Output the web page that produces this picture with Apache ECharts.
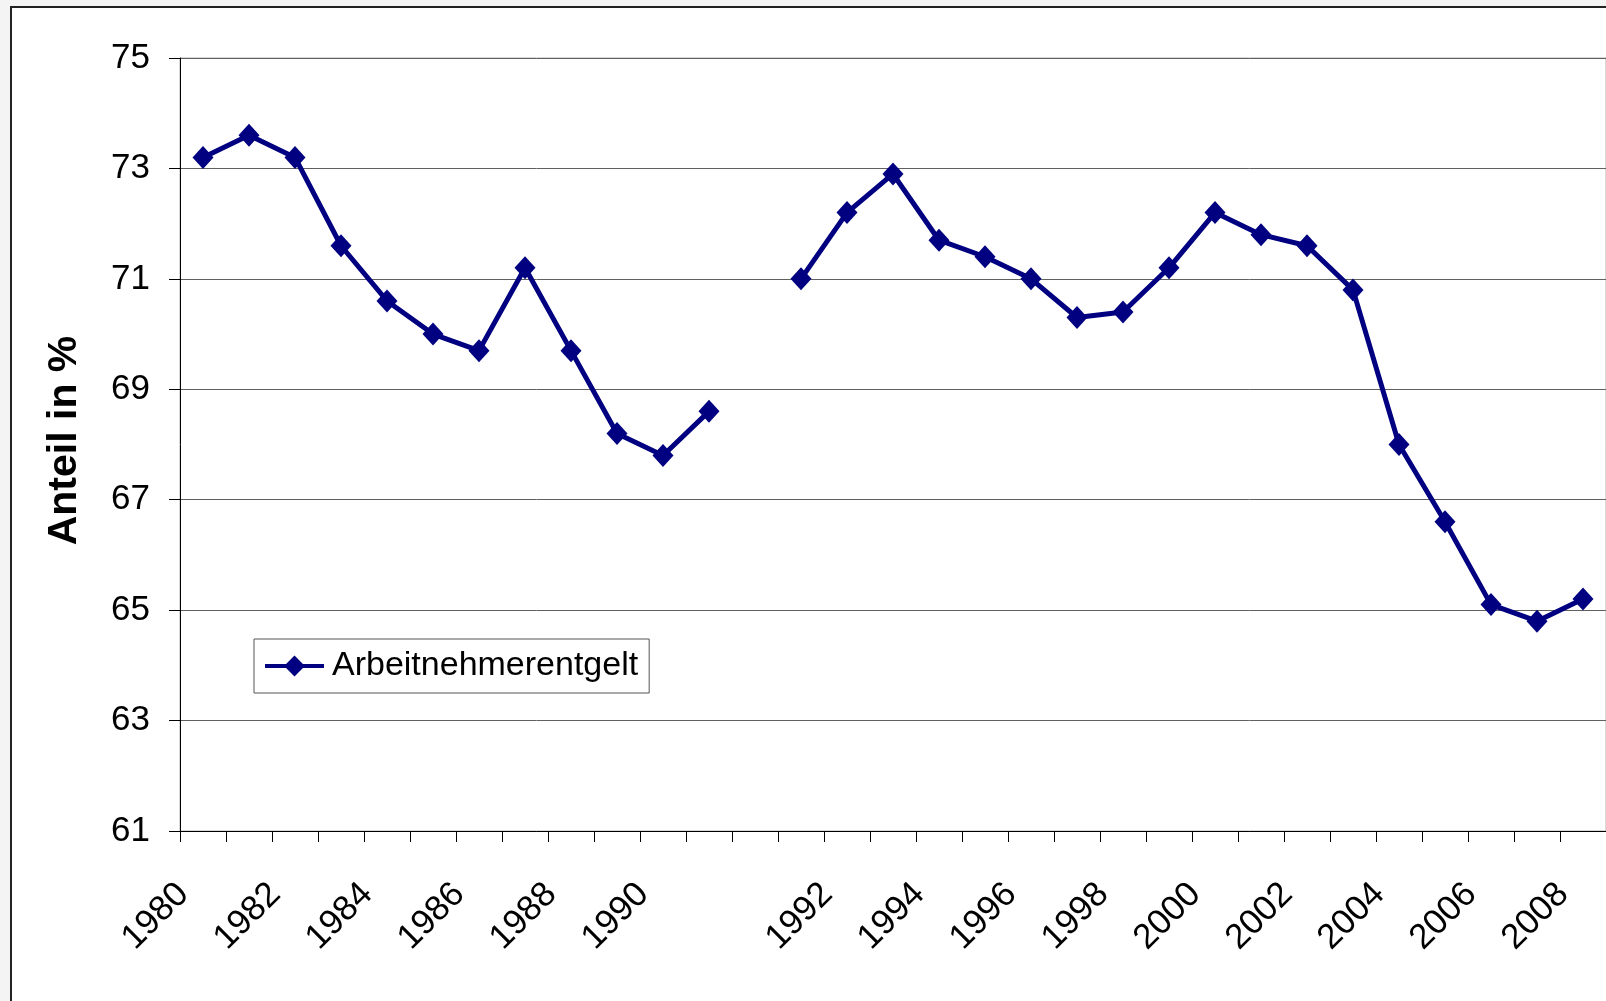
<!DOCTYPE html>
<html>
<head>
<meta charset="utf-8">
<script src="https://cdn.jsdelivr.net/npm/echarts@6/dist/echarts.min.js"></script>
<style>
    html, body { margin: 0; padding: 0; background: #f4f4f4; }
    #main-chart { width: 1606px; height: 1001px; }
</style>
</head>
<body>
<div id="main-chart"></div>
<script>
// Früheres Bundesgebiet 1980-1991, Deutschland 1991-2008
const westYears = ['1980', '1981', '1982', '1983', '1984', '1985', '1986', '1987', '1988', '1989', '1990', '1991'];
const westValues = [73.2, 73.6, 73.2, 71.6, 70.6, 70.0, 69.7, 71.2, 69.7, 68.2, 67.8, 68.6];
const gesamtYears = ['1991', '1992', '1993', '1994', '1995', '1996', '1997', '1998', '1999',
    '2000', '2001', '2002', '2003', '2004', '2005', '2006', '2007', '2008'];
const gesamtValues = [71.0, 72.2, 72.9, 71.7, 71.4, 71.0, 70.3, 70.4, 71.2,
    72.2, 71.8, 71.6, 70.8, 68.0, 66.6, 65.1, 64.8, 65.2];
const seriesName = 'Arbeitnehmerentgelt';
const yAxisTitle = 'Anteil in %';

// leere Kategorie als Lücke zwischen den beiden Reihen
const categories = westYears.concat([''], gesamtYears);
const values = westValues.concat([null], gesamtValues);

const fontFamily = '"Liberation Sans", Arial, sans-serif';
const myChart = echarts.init(document.getElementById('main-chart'));

const option = {
    animation: false,
    backgroundColor: '#f4f4f4',
    graphic: [{
        type: 'rect',
        z: -10,
        shape: { x: 11, y: 7, width: 1700, height: 1100 },
        style: { fill: '#ffffff', stroke: '#222222', lineWidth: 2 }
    }],
    grid: {
        left: 180, top: 58, width: 1426, height: 773,
        show: true, borderColor: '#b0b0b0', borderWidth: 1, backgroundColor: 'transparent'
    },
    legend: {
        left: 254, top: 639,
        padding: [10, 11, 10, 9],
        backgroundColor: '#ffffff',
        borderColor: '#555555',
        borderWidth: 1,
        borderRadius: 0,
        itemWidth: 59,
        itemHeight: 26,
        lineStyle: { width: 4 },
        textStyle: { fontSize: 34, color: '#000', fontFamily: fontFamily, padding: [0, 0, 0, 3] },
        data: [seriesName]
    },
    xAxis: {
        type: 'category',
        data: categories,
        boundaryGap: true,
        axisLine: { lineStyle: { color: '#000', width: 1 } },
        axisTick: { show: true, interval: 0, length: 11, lineStyle: { color: '#000' } },
        axisLabel: {
            interval: 1,
            rotate: 45,
            margin: 38,
            padding: [0, 28, 0, 0],
            fontSize: 35,
            color: '#000',
            fontFamily: fontFamily
        },
        splitLine: { show: false }
    },
    yAxis: {
        type: 'value',
        min: 61,
        max: 75,
        interval: 2,
        name: yAxisTitle,
        nameLocation: 'middle',
        nameRotate: 90,
        nameGap: 95,
        nameTextStyle: {
            fontSize: 41, fontWeight: 'bold', color: '#000', fontFamily: fontFamily,
            padding: [0, 0, 0, 8]
        },
        axisLine: { show: true, lineStyle: { color: '#000', width: 1 } },
        axisTick: { show: true, length: 11, lineStyle: { color: '#000' } },
        axisLabel: { margin: 30, fontSize: 35, color: '#000', fontFamily: fontFamily },
        splitLine: { show: true, lineStyle: { color: '#606060', width: 1 } }
    },
    series: [{
        name: seriesName,
        type: 'line',
        data: values,
        connectNulls: false,
        symbol: 'diamond',
        symbolSize: [21, 23],
        lineStyle: { color: '#000080', width: 5 },
        itemStyle: { color: '#000080' }
    }]
};

myChart.setOption(option);
</script>
</body>
</html>
